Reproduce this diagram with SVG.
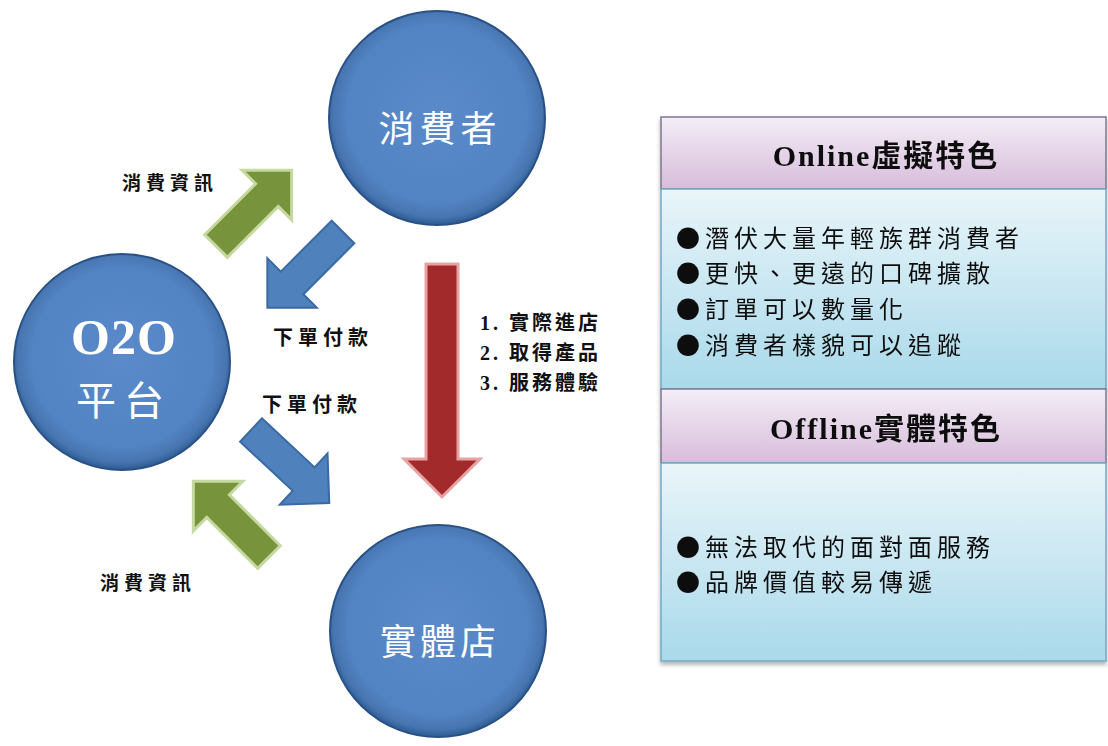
<svg xmlns="http://www.w3.org/2000/svg" width="1108" height="746" viewBox="0 0 1108 746">
<style>
.node-c{fill:url(#gBlue);stroke:#2A5185;stroke-width:2}
.ctext{fill:#FFFFFF;font-family:"Noto Sans CJK TC","Noto Sans CJK SC",sans-serif;}
.lbl{fill:#111;font-family:"Liberation Serif","Noto Sans CJK TC",serif;font-weight:bold;}
.hdr{fill:#111;font-family:"Liberation Serif","Noto Sans CJK TC",serif;font-weight:bold;font-size:30px;letter-spacing:2px}
.body{fill:#111;font-family:"Noto Sans CJK TC","Noto Sans CJK SC",sans-serif;font-size:24px;letter-spacing:5px}
.ga{fill:#77933C;stroke:#C5D9A0;stroke-width:3;stroke-linejoin:miter}
.ba{fill:#4F81BD;stroke:#3A6AA3;stroke-width:2;stroke-linejoin:miter}
.ra{fill:#A32A2A;stroke:#E7A3A3;stroke-width:3;stroke-linejoin:miter}
</style>
<defs>
<radialGradient id="gBlue" cx="50%" cy="48%" r="52%">
<stop offset="0%" stop-color="#5A8ACA"/>
<stop offset="80%" stop-color="#5283C3"/>
<stop offset="93%" stop-color="#4775B0"/>
<stop offset="100%" stop-color="#2C5A92"/>
</radialGradient>
<linearGradient id="gHdr" x1="0" y1="0" x2="0" y2="1">
<stop offset="0%" stop-color="#F3EEF6"/>
<stop offset="100%" stop-color="#D7BCDB"/>
</linearGradient>
<linearGradient id="gBody" x1="0" y1="0" x2="0" y2="1">
<stop offset="0%" stop-color="#E9F5F9"/>
<stop offset="100%" stop-color="#A9D9EA"/>
</linearGradient>
<filter id="sh" x="-5%" y="-5%" width="110%" height="115%">
<feDropShadow dx="0" dy="3" stdDeviation="2" flood-color="#000" flood-opacity="0.3"/>
</filter>
<path id="arr" d="M0,-16 H72 V-35 L107,0 L72,35 V16 H0 Z"/>
</defs>
<rect width="1108" height="746" fill="#FFFFFF"/>

<g id="connectors">
<g id="arrow-info-top"><use href="#arr" class="ga" transform="translate(216,246) rotate(-45)"/></g>
<g id="arrow-order-top"><use href="#arr" class="ba" transform="translate(343,232) rotate(135)"/></g>
<g id="arrow-order-bottom"><use href="#arr" class="ba" transform="translate(251,430) rotate(43)"/></g>
<g id="arrow-info-bottom"><use href="#arr" class="ga" transform="translate(269,557) rotate(-135)"/></g>
<g id="arrow-store"><path class="ra" d="M426,264 H458 V459 H480 L442,497 L404,459 H426 Z"/></g>
<text class="lbl" x="122" y="190" font-size="19" letter-spacing="5">消費資訊</text>
<text class="lbl" x="273" y="345" font-size="20" letter-spacing="5">下單付款</text>
<text class="lbl" x="262" y="412" font-size="20" letter-spacing="5">下單付款</text>
<text class="lbl" x="100" y="590" font-size="19" letter-spacing="5">消費資訊</text>
<text class="lbl" x="480" y="330" font-size="20" letter-spacing="3">1. 實際進店</text>
<text class="lbl" x="480" y="360" font-size="20" letter-spacing="3">2. 取得產品</text>
<text class="lbl" x="480" y="390" font-size="20" letter-spacing="3">3. 服務體驗</text>
</g>

<g id="node-consumer">
<ellipse class="node-c" cx="437" cy="118" rx="108" ry="107"/>
<text class="ctext" x="440" y="142" font-size="36" letter-spacing="5" text-anchor="middle">消費者</text>
</g>
<g id="node-o2o">
<ellipse class="node-c" cx="122" cy="362" rx="108" ry="108"/>
<text x="124" y="354" font-size="50" font-weight="bold" fill="#FFFFFF" font-family="Liberation Serif, serif" text-anchor="middle" letter-spacing="1">O2O</text>
<text class="ctext" x="124" y="415" font-size="40" letter-spacing="8" text-anchor="middle">平台</text>
</g>
<g id="node-store">
<ellipse class="node-c" cx="438" cy="631" rx="108" ry="106"/>
<text class="ctext" x="440" y="655" font-size="36" letter-spacing="4" text-anchor="middle">實體店</text>
</g>

<g id="panel" filter="url(#sh)">
<g id="online-header">
<rect x="661" y="117" width="445" height="72" fill="url(#gHdr)" stroke="#7D7890" stroke-width="1.5"/>
<text class="hdr" x="886" y="166" text-anchor="middle">Online虛擬特色</text>
</g>
<g id="online-body">
<rect x="661" y="189" width="445" height="200" fill="url(#gBody)" stroke="#72A9C6" stroke-width="1.5"/>
<text class="body" x="676" y="247">●潛伏大量年輕族群消費者</text>
<text class="body" x="676" y="282">●更快、更遠的口碑擴散</text>
<text class="body" x="676" y="318">●訂單可以數量化</text>
<text class="body" x="676" y="354">●消費者樣貌可以追蹤</text>
</g>
<g id="offline-header">
<rect x="661" y="389" width="445" height="74" fill="url(#gHdr)" stroke="#7D7890" stroke-width="1.5"/>
<text class="hdr" x="886" y="439" text-anchor="middle">Offline實體特色</text>
</g>
<g id="offline-body">
<rect x="661" y="463" width="445" height="198" fill="url(#gBody)" stroke="#72A9C6" stroke-width="1.5"/>
<text class="body" x="676" y="556">●無法取代的面對面服務</text>
<text class="body" x="676" y="591">●品牌價值較易傳遞</text>
</g>
</g>
</svg>
